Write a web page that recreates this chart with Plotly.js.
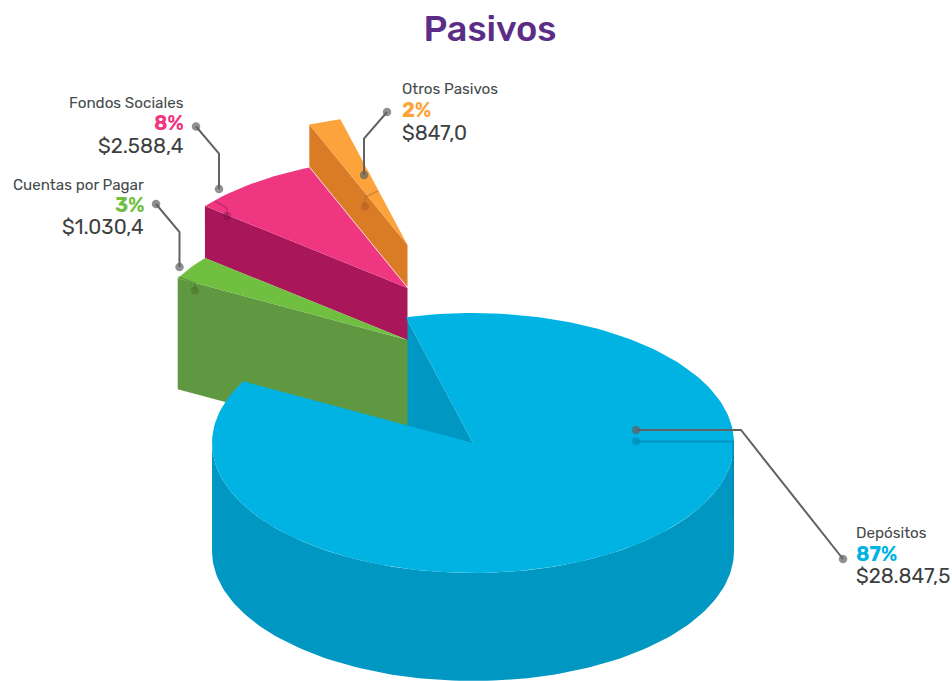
<!DOCTYPE html>
<html>
<head>
<meta charset="utf-8">
<script src="https://cdn.plot.ly/plotly-3.0.1.min.js"></script>
<style>html,body{margin:0;padding:0;background:#fff}#chart{width:952px;height:681px}</style>
</head>
<body>
<div id="chart"></div>
<script>
// Data (clockwise order from the top of the pie)
const categories = ['Depósitos', 'Cuentas por Pagar', 'Fondos Sociales', 'Otros Pasivos'];
const percents   = [87, 3, 8, 2];
const amounts    = ['$28.847,5', '$1.030,4', '$2.588,4', '$847,0'];

// Styles
const topColors  = ['#00b3e2', '#70bf41', '#ef3680', '#fda33b'];
const wallColors = ['#0098c3', '#5f9840', '#aa165a', '#da7b26'];
const FONT = 'Rubik, Inter, "Noto Sans", sans-serif';

// Projection of the pie: pixel-scaled axes, ellipse radii, per-slice apex and thickness
const RX = 261, RY = 130, START = -14.9;
const apex  = [[473, 443], [407.5, 340], [407.5, 288], [407.5, 245]];
const depth = [108, 111, 52, 42];

function rim(a, i) {
  const t = a * Math.PI / 180;
  const c = apex[i];
  return [c[0] + RX * Math.sin(t), c[1] - RY * Math.cos(t)];
}
function arc(a0, a1, i) {
  const pts = [], n = Math.max(2, Math.ceil(Math.abs(a1 - a0) / 1.5));
  for (let k = 0; k <= n; k++) pts.push(rim(a0 + (a1 - a0) * k / n, i));
  return pts;
}
function poly(pts, color, name) {
  return {
    type: 'scatter', mode: 'lines', name: name,
    x: pts.map(p => p[0]), y: pts.map(p => p[1]),
    fill: 'toself', fillcolor: color, line: {width: 0, color: color},
    hoverinfo: 'skip', showlegend: false
  };
}
const down = (pts, d) => pts.map(p => [p[0], p[1] + d]);

// Cumulative angles from the percentages
const bounds = [START];
percents.forEach(p => bounds.push(bounds[bounds.length - 1] + p * 3.6));

const traces = [];
// Inner face of the main slice goes behind the raised slices
const c0 = apex[0];
const innerTop = [rim(START, 0), c0];
traces.push(poly(innerTop.concat(down(innerTop, depth[0]).reverse()), wallColors[0], categories[0] + ' interior'));
// Raised slices: back to front
[3, 2, 1].forEach(i => {
  const a = bounds[i], b = bounds[i + 1], c = apex[i];
  const wallTop = [rim(a, i), c];
  traces.push(poly(wallTop.concat(down(wallTop, depth[i]).reverse()), wallColors[i], categories[i] + ' lateral'));
  traces.push(poly(arc(a, b, i).concat([c]), topColors[i], categories[i]));
});
// Main slice
const frontRim = arc(90, 270, 0);
traces.push(poly(frontRim.concat(down(frontRim, depth[0]).reverse()), wallColors[0], categories[0] + ' lateral'));
traces.push(poly(arc(bounds[0], bounds[1], 0).concat([c0]), topColors[0], categories[0]));

// Leader lines
function leader(pts, lineColor, dotColor, sizes, width) {
  return {
    type: 'scatter', mode: 'lines+markers',
    x: pts.map(p => p[0]), y: pts.map(p => p[1]),
    line: {color: lineColor, width: width, shape: 'linear'},
    marker: {color: dotColor, size: sizes, line: {width: 0}},
    hoverinfo: 'skip', showlegend: false
  };
}
const GRAY = '#5f6363';
// faint shadows on the slices
traces.push(leader([[636, 441.5], [733, 441.5], [733, 518]], 'rgba(0,135,180,0.7)', 'rgba(0,135,180,0.85)', [8, 0, 0], 2));
traces.push(leader([[365, 206.5], [365, 197], [378, 191]], 'rgba(170,110,60,0.55)', 'rgba(170,90,30,0.7)', [8, 0, 0], 1.5));
traces.push(leader([[227, 216], [227, 208], [215, 201]], 'rgba(130,30,80,0.4)', 'rgba(110,15,60,0.5)', [8, 0, 0], 1.5));
traces.push(leader([[195, 290.5], [195, 283], [178, 277]], 'rgba(70,110,40,0.45)', 'rgba(60,100,30,0.55)', [8, 0, 0], 1.5));
// leaders
traces.push(leader([[636, 430], [741, 430], [843, 559]], GRAY, GRAY, [8.5, 0, 8.5], 2));
traces.push(leader([[364, 175], [364, 138.5], [387, 112]], GRAY, GRAY, [8.5, 0, 8.5], 2));
traces.push(leader([[219, 189], [219, 153.5], [196, 126.5]], GRAY, GRAY, [8.5, 0, 8.5], 2));
traces.push(leader([[179.5, 267], [179.5, 232], [156, 204]], GRAY, GRAY, [8.5, 0, 8.5], 2));

// Labels: x, anchor, three line centres
const labelPos = [
  [854, 'left',  [533, 554, 576]],
  [145.5, 'right', [185, 205, 227]],
  [185.5, 'right', [103, 123, 146]],
  [400, 'left',  [89, 110, 133]]
];
const annotations = [];
categories.forEach((name, i) => {
  const [x, anchor, ys] = labelPos[i];
  const base = {xref: 'x', yref: 'y', x: x, xanchor: anchor, yanchor: 'middle', showarrow: false};
  annotations.push(Object.assign({}, base, {y: ys[0], text: name, font: {family: FONT, size: 15.2, color: '#444a4a'}}));
  annotations.push(Object.assign({}, base, {y: ys[1], text: percents[i] + '%', font: {family: FONT, size: 20, weight: 700, color: topColors[i]}}));
  annotations.push(Object.assign({}, base, {y: ys[2], text: amounts[i], font: {family: FONT, size: 20.5, color: '#3c4040'}}));
});

const layout = {
  width: 952, height: 681,
  margin: {l: 0, r: 0, t: 0, b: 0},
  paper_bgcolor: '#fff', plot_bgcolor: '#fff',
  showlegend: false, hovermode: false,
  title: {text: 'Pasivos', x: 490 / 952, xanchor: 'center', y: 1 - 28 / 681, yanchor: 'middle',
          font: {family: FONT, size: 36, weight: 500, color: '#5b2d87'}},
  xaxis: {range: [0, 952], visible: false, fixedrange: true},
  yaxis: {range: [681, 0], visible: false, fixedrange: true},
  annotations: annotations
};
Plotly.newPlot('chart', traces, layout, {displayModeBar: false, staticPlot: true});
</script>
</body>
</html>
